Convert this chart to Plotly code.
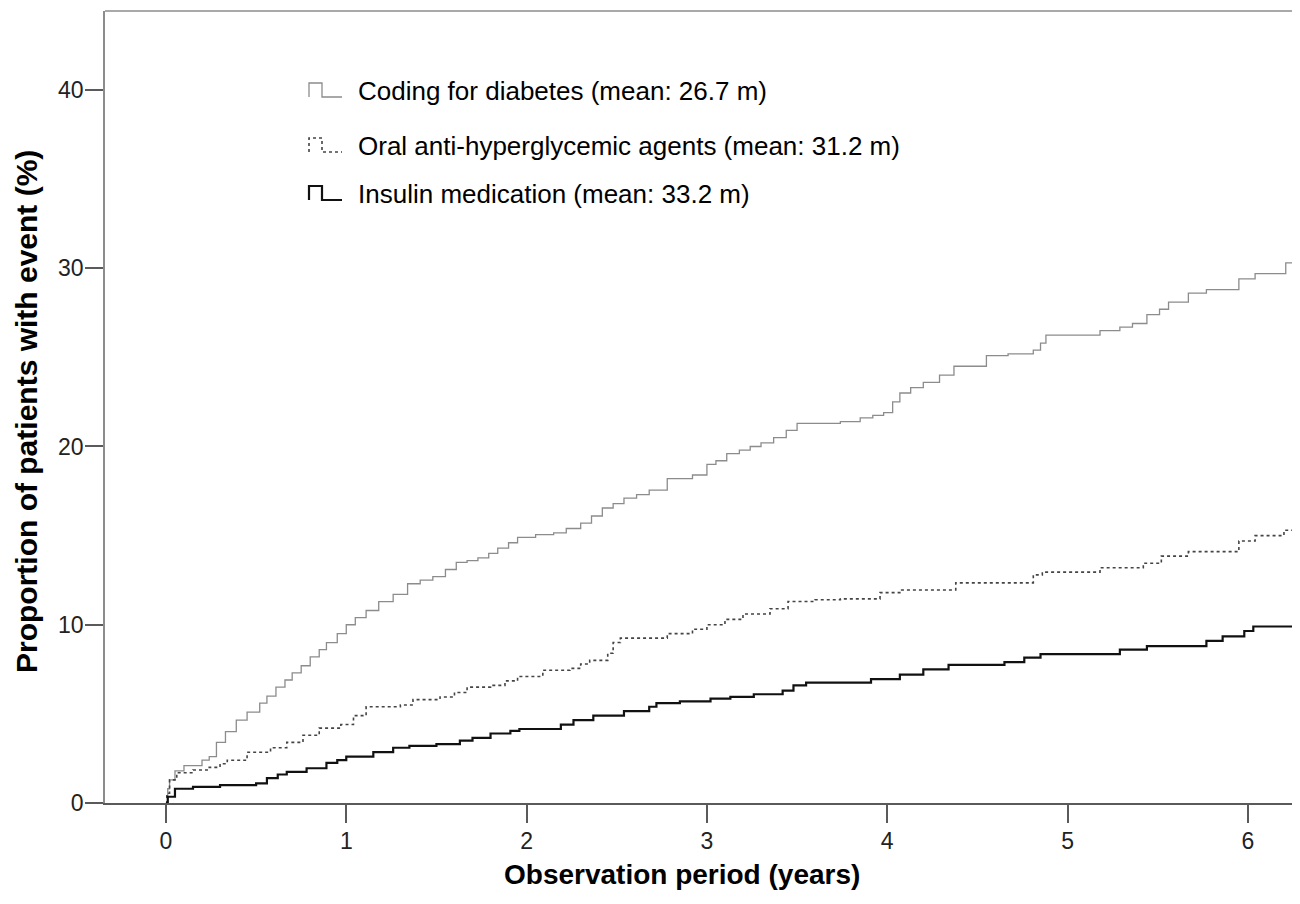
import plotly.graph_objects as go

# ---------------- data ----------------
coding_t = [0, 0.01, 0.02, 0.05, 0.1, 0.2, 0.24, 0.28, 0.33, 0.39,
            0.45, 0.52, 0.56, 0.61, 0.66, 0.70, 0.75, 0.80, 0.85, 0.89,
            0.95, 1.0, 1.05, 1.11, 1.18, 1.26, 1.34, 1.41, 1.48, 1.55,
            1.61, 1.67, 1.73, 1.79, 1.84, 1.90, 1.95, 2.05, 2.15, 2.22,
            2.30, 2.36, 2.42, 2.48, 2.54, 2.61, 2.68, 2.78, 2.92, 3.0,
            3.05, 3.11, 3.18, 3.24, 3.30, 3.37, 3.44, 3.50, 3.74, 3.85,
            3.92, 3.98, 4.03, 4.07, 4.13, 4.20, 4.29, 4.37, 4.55, 4.67,
            4.81, 4.85, 4.88, 5.18, 5.29, 5.36, 5.44, 5.51, 5.56, 5.67,
            5.77, 5.95, 6.04, 6.21, 6.27]
coding_v = [0, 0.8, 1.3, 1.8, 2.1, 2.4, 2.6, 3.4, 4.0, 4.65,
            5.1, 5.6, 6.0, 6.5, 6.9, 7.3, 7.7, 8.2, 8.6, 9.0,
            9.5, 10.0, 10.4, 10.8, 11.3, 11.7, 12.3, 12.5, 12.7, 13.1,
            13.5, 13.6, 13.75, 14.0, 14.3, 14.6, 14.9, 15.05, 15.15, 15.4,
            15.7, 16.1, 16.55, 16.8, 17.1, 17.3, 17.55, 18.2, 18.4, 19.0,
            19.2, 19.6, 19.8, 20.0, 20.2, 20.5, 20.9, 21.3, 21.4, 21.6,
            21.75, 21.9, 22.5, 23.0, 23.3, 23.6, 24.0, 24.5, 25.1, 25.2,
            25.4, 25.8, 26.25, 26.5, 26.7, 26.9, 27.4, 27.7, 28.1, 28.6,
            28.8, 29.4, 29.7, 30.3, 30.85]

oral_t = [0, 0.005, 0.02, 0.06, 0.15, 0.24, 0.30, 0.34, 0.45, 0.58,
          0.67, 0.76, 0.85, 0.97, 1.04, 1.11, 1.30, 1.37, 1.52, 1.60,
          1.67, 1.80, 1.88, 1.95, 2.09, 2.24, 2.30, 2.35, 2.45, 2.48,
          2.52, 2.78, 2.92, 3.0, 3.1, 3.2, 3.35, 3.45, 3.6, 3.74,
          3.96, 4.08, 4.38, 4.81, 4.86, 5.18, 5.42, 5.52, 5.67, 5.95,
          6.04, 6.20, 6.28]
oral_v = [0, 0.55, 1.3, 1.7, 1.85, 2.0, 2.2, 2.4, 2.85, 3.1,
          3.4, 3.8, 4.2, 4.4, 4.9, 5.4, 5.5, 5.8, 5.95, 6.2,
          6.5, 6.6, 6.85, 7.1, 7.45, 7.55, 7.8, 8.0, 8.4, 9.0,
          9.25, 9.5, 9.75, 10.0, 10.3, 10.6, 10.9, 11.3, 11.4, 11.45,
          11.8, 11.95, 12.35, 12.8, 12.95, 13.2, 13.45, 13.85, 14.1, 14.7,
          15.0, 15.3, 15.6]

insulin_t = [0, 0.01, 0.05, 0.15, 0.30, 0.50, 0.56, 0.62, 0.67, 0.78,
             0.89, 0.95, 1.0, 1.15, 1.26, 1.35, 1.50, 1.63, 1.70, 1.80,
             1.91, 1.96, 2.19, 2.26, 2.37, 2.54, 2.68, 2.72, 2.85, 3.02,
             3.13, 3.26, 3.42, 3.48, 3.55, 3.91, 4.07, 4.20, 4.34, 4.65,
             4.76, 4.85, 5.29, 5.44, 5.77, 5.86, 5.98, 6.03, 6.29]
insulin_v = [0, 0.35, 0.8, 0.9, 1.0, 1.1, 1.4, 1.6, 1.75, 1.95,
             2.25, 2.4, 2.6, 2.85, 3.1, 3.2, 3.3, 3.5, 3.65, 3.9,
             4.05, 4.15, 4.4, 4.65, 4.9, 5.15, 5.4, 5.6, 5.7, 5.85,
             5.95, 6.1, 6.3, 6.6, 6.75, 6.95, 7.2, 7.5, 7.75, 7.9,
             8.15, 8.35, 8.6, 8.8, 9.1, 9.35, 9.65, 9.9, 9.9]

series_names = ["Coding for diabetes (mean: 26.7 m)",
                "Oral anti-hyperglycemic agents (mean: 31.2 m)",
                "Insulin medication (mean: 33.2 m)"]
x_ticks = [0, 1, 2, 3, 4, 5, 6]
y_ticks = [0, 10, 20, 30, 40]
x_title = "Observation period (years)"
y_title = "Proportion of patients with event (%)"

# ---------------- layout geometry ----------------
OFF = 8  # page body margin
W, H = 1300 - OFF, 904 - OFF
ML, MR, MT, MB = 105 - OFF, 0, 11 - OFF, 904 - 803
PW, PH = W - ML - MR, H - MT - MB
FONT = "Arial, 'Liberation Sans', sans-serif"


def px(xp):  # reference page pixel -> paper x
    return (xp - OFF - ML) / PW


def py(yp):  # reference page pixel -> paper y
    return (H - MB - (yp - OFF)) / PH


styles = [dict(color="#8c8c8c", width=1.3),
          dict(color="#444444", width=1.6, dash="dot"),
          dict(color="#111111", width=2.2)]

fig = go.Figure()
for (t, v), name, st in zip([(coding_t, coding_v), (oral_t, oral_v), (insulin_t, insulin_v)],
                            series_names, styles):
    fig.add_trace(go.Scatter(x=t, y=v, mode="lines", line_shape="hv",
                             line=st, name=name, showlegend=False,
                             hoverinfo="skip"))

shapes = []
annotations = []
# manual legend with step glyphs
rows = [91, 146, 194]
for name, st, cy in zip(series_names, styles, rows):
    x0, xm, x1 = 309, 322, 342
    top, bot = cy - 8, cy + 6
    path = (f"M {px(x0)},{py(bot)} L {px(x0)},{py(top)} L {px(xm)},{py(top)} "
            f"L {px(xm)},{py(bot)} L {px(x1)},{py(bot)}")
    shapes.append(dict(type="path", xref="paper", yref="paper", path=path,
                       line=dict(color=st["color"], width=st["width"],
                                 dash=st.get("dash", "solid"))))
    annotations.append(dict(xref="paper", yref="paper", x=px(356), y=py(cy),
                            xanchor="left", yanchor="middle", showarrow=False,
                            text=name, font=dict(family=FONT, size=26, color="#000")))

# top frame line
shapes.append(dict(type="line", xref="paper", yref="paper", x0=0, x1=1, y0=1, y1=1,
                   line=dict(color="#8c8c8c", width=1.5)))

# axis titles
annotations.append(dict(xref="paper", yref="paper", x=px(682), y=py(875),
                        xanchor="center", yanchor="middle", showarrow=False,
                        text=f"<b>{x_title}</b>",
                        font=dict(family=FONT, size=28, color="#000")))
annotations.append(dict(xref="paper", yref="paper", x=px(27), y=py(412),
                        xanchor="center", yanchor="middle", showarrow=False,
                        textangle=-90, text=f"<b>{y_title}</b>",
                        font=dict(family=FONT, size=30, color="#000")))

fig.update_layout(
    width=W, height=H,
    margin=dict(l=ML, r=MR, t=MT, b=MB, pad=0),
    paper_bgcolor="white", plot_bgcolor="white",
    shapes=shapes, annotations=annotations,
    font=dict(family=FONT),
)
fig.update_xaxes(range=[-0.338, 6.289], tickvals=x_ticks, ticktext=[str(t) for t in x_ticks],
                 showgrid=False, zeroline=False, showline=True, linecolor="#5a5a5a",
                 linewidth=2, ticks="outside", ticklen=18, tickwidth=1.5,
                 tickcolor="#5a5a5a", ticklabelstandoff=-2,
                 tickfont=dict(family=FONT, size=23, color="#222"))
fig.update_yaxes(range=[0, 44.43], tickvals=y_ticks, ticktext=[str(t) for t in y_ticks],
                 showgrid=False, zeroline=False, showline=True, linecolor="#8c8c8c",
                 linewidth=1.5, ticks="outside", ticklen=18, tickwidth=1.5,
                 tickcolor="#5a5a5a", ticklabelstandoff=-3,
                 tickfont=dict(family=FONT, size=23, color="#222"))

fig.write_html("out.html")
